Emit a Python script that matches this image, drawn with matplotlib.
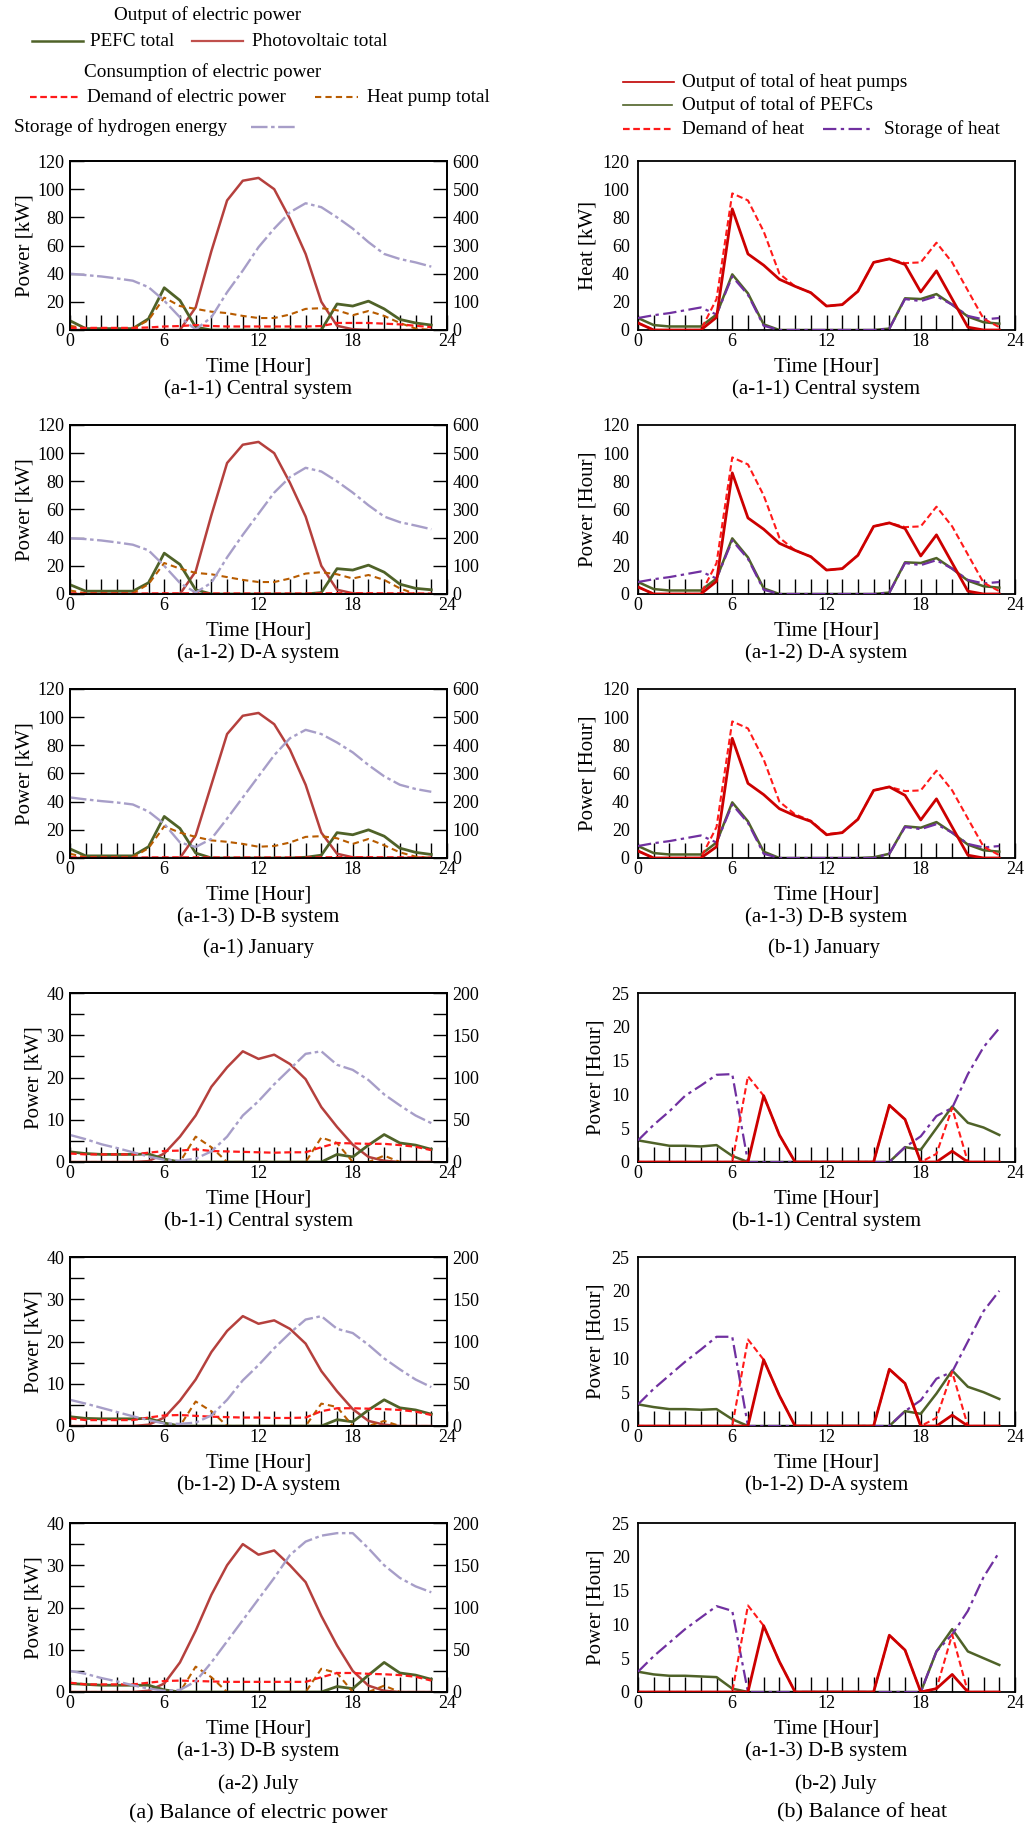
import matplotlib
matplotlib.use("Agg")
import matplotlib.pyplot as plt
from matplotlib.lines import Line2D
from matplotlib.ticker import MultipleLocator

plt.rcParams['font.family'] = ['Liberation Serif', 'DejaVu Serif']
plt.rcParams['font.size'] = 13

HOURS = list(range(24))

# ---- electric balance, January (left, rows 1-3)
E1_PEFC = [6.6, 1, 1, 1, 1, 8, 30, 21, 2, 0, 0, 0, 0, 0, 0, 0, 0, 18.5, 17, 20.5, 15, 7.5, 5, 3.5]
E1_PV = [0, 0, 0, 0, 0, 0, 0, 0, 16, 56, 92, 106, 108, 100, 79, 54, 20, 3, 0.5, 0, 0, 0, 0, 0]
E1_DEM = [1.5, 1.5, 1.5, 1.5, 1.5, 1.8, 2.5, 2.8, 3.5, 2.8, 2.5, 2.5, 2.5, 2.5, 2.5, 2.5, 2.8, 5, 5, 5, 4.5, 4, 3, 2]
E1_HP = [3, 1, 1, 1, 1, 7, 23, 17, 15, 13, 12, 10, 8.5, 8.5, 11, 15, 15.5, 14, 10.5, 13.5, 10, 5, 1, 0]
E1_H2 = [200, 195, 190, 183, 175, 152, 104, 45, 2, 45, 134, 211, 294, 360, 418, 450, 436, 400, 360, 312, 270, 252, 240, 225]

E2_PEFC = [6.6, 2, 2, 2, 2, 8, 29, 21, 3, 0, 0, 0, 0, 0, 0, 0, 1, 18, 17, 20.5, 15.5, 7, 4, 3]
E2_PV = [0, 0, 0, 0, 0, 0, 0, 0, 16, 56, 93, 106, 108, 100, 79, 55, 20, 3, 0.5, 0, 0, 0, 0, 0]
E2_DEM = [0.5, 0.3, 0.3, 0.3, 0.3, 0.4, 0.5, 0.5, 0.5, 0.4, 0.4, 0.4, 0.4, 0.4, 0.4, 0.4, 0.5, 0.6, 0.6, 0.6, 0.5, 0.5, 0.4, 0.3]
E2_HP = [2.5, 0.5, 0.5, 0.5, 0.5, 7, 22, 18, 15, 14, 12, 10, 8.5, 8.5, 11, 14.5, 15.5, 14, 11, 13.5, 10, 4, 0, 0]
E2_H2 = [198, 195, 190, 183, 175, 155, 100, 39, 5, 40, 130, 210, 285, 360, 415, 448, 435, 400, 360, 315, 275, 255, 243, 230]

E3_PEFC = [6.5, 1.5, 1.5, 1.5, 1.5, 8, 29.5, 21, 3.5, 0, 0, 0, 0, 0, 0, 0.5, 2, 18, 16.5, 20, 15.5, 7, 4, 2.5]
E3_PV = [0, 0, 0, 0, 0, 0, 0, 0, 16, 52, 88, 101, 103, 95, 77, 52, 18, 3, 0.5, 0, 0, 0, 0, 0]
E3_DEM = [0.5, 0.3, 0.3, 0.3, 0.3, 0.4, 0.5, 0.5, 0.5, 0.4, 0.4, 0.4, 0.4, 0.4, 0.4, 0.4, 0.5, 0.6, 0.6, 0.6, 0.5, 0.5, 0.4, 0.3]
E3_HP = [3, 0.5, 0.5, 0.5, 0.5, 7, 22.5, 18, 15, 12.5, 11.5, 10, 8, 8.5, 11, 15, 15.5, 14, 10, 13.5, 9, 4, 1, 0]
E3_H2 = [215, 208, 202, 197, 190, 165, 121, 55, 39, 68, 140, 215, 290, 365, 425, 455, 440, 410, 375, 330, 290, 260, 245, 235]

# ---- heat balance, January (right, rows 1-3)
H1_HP = [5, 0, 0, 0, 0, 9, 86, 54, 46, 36, 31, 26.5, 17, 18, 27.5, 48, 50.5, 46.5, 27, 42, 22, 2, 0, 0]
H1_PEFC = [8.5, 3.5, 2.5, 2.5, 2.5, 11, 39.5, 26, 4, 0, 0, 0, 0, 0, 0, 0, 1, 22.5, 22, 25.5, 18, 9.5, 5.5, 4.5]
H1_DEM = [5, 0, 0, 0, 0, 22, 97, 92, 70, 40, 31, 26.5, 17, 18, 27.5, 48, 50.5, 47.5, 48, 62, 48, 28, 8, 2]
H1_ST = [8.5, 10.5, 12, 14, 16, 11, 38, 25, 3, 0, 0, 0, 0, 0, 0, 0, 1, 22, 20.5, 24, 18, 10, 7.5, 8.5]

H2_HP = [5, 0, 0, 0, 0, 9, 86, 54, 46, 36, 31, 26.5, 17, 18, 27.5, 48, 50.5, 46.5, 27, 42, 22, 2, 0, 0]
H2_PEFC = [8.5, 3.5, 2.5, 2.5, 2.5, 11, 39.5, 26, 4, 0, 0, 0, 0, 0, 0, 0, 1, 22.5, 22, 25.5, 18, 9.5, 5.5, 4.5]
H2_DEM = [5, 0, 0, 0, 0, 22, 97, 92, 70, 40, 31, 26.5, 17, 18, 27.5, 48, 50.5, 47.5, 48, 62, 48, 28, 8, 2]
H2_ST = [8.5, 10.5, 12, 14, 16, 11, 38, 25, 3, 0, 0, 0, 0, 0, 0, 0, 1, 22, 20.5, 24, 18, 10, 7.5, 8.5]

H3_HP = [5, 0, 0, 0, 0, 8, 85, 53, 45, 35, 30, 26, 16.5, 18, 27.5, 48, 50.5, 44.5, 27, 42, 22, 2, 0, 0]
H3_PEFC = [8.5, 3.5, 2.5, 2.5, 2.5, 11, 39.5, 26, 4.5, 0, 0, 0, 0, 0, 0, 0.5, 3, 22.5, 21.5, 25.5, 18, 9.5, 5.5, 4.5]
H3_DEM = [5, 0, 0, 0, 0, 22, 97, 92, 70, 40, 31, 26.5, 17, 18, 27.5, 48, 50.5, 47.5, 48, 62, 48, 28, 8, 2]
H3_ST = [8.5, 10.5, 12, 14, 16, 11, 38, 25, 3, 0, 0, 0, 0, 0, 0, 0, 3, 22, 20.5, 24, 18, 10, 7.5, 8.5]

# ---- electric balance, July (left, rows 4-6)
J1_PEFC = [2.4, 2.0, 1.8, 1.8, 1.8, 1.9, 0.7, 0, 0, 0, 0, 0, 0, 0, 0, 0, 0, 1.8, 1.2, 4, 6.5, 4.5, 4, 3]
J1_PV = [0, 0, 0, 0, 0, 0.2, 2, 6, 11, 17.8, 22.4, 26.2, 24.4, 25.4, 23.2, 19.6, 13, 8.3, 4.1, 1.2, 0.3, 0, 0, 0]
J1_DEM = [2, 1.8, 1.8, 1.8, 1.8, 2.2, 2.6, 2.7, 3.0, 2.6, 2.5, 2.4, 2.3, 2.2, 2.3, 2.3, 3.5, 4.5, 4.4, 4.3, 4.3, 4.0, 3.6, 2.8]
J1_HP = [0, 0, 0, 0, 0, 0, 0, 0, 6, 3.5, 0, 0, 0, 0, 0, 0, 5.8, 4.5, 0, 0, 1.5, 0, 0, 0]
J1_H2 = [32, 27, 21, 16.5, 11.5, 6.5, 2.5, 1.5, 4, 12.5, 30, 55, 72, 92, 110, 128, 131, 115, 109, 97, 80, 67, 55, 46]

J2_PEFC = [2.2, 1.8, 1.7, 1.7, 1.7, 1.8, 0.7, 0, 0, 0, 0, 0, 0, 0, 0, 0, 0, 1.5, 1.0, 3.8, 6.2, 4.3, 3.8, 2.8]
J2_PV = [0, 0, 0, 0, 0, 0.3, 2, 6, 11, 17.5, 22.5, 26, 24.2, 25, 23, 19.5, 13, 8.2, 4, 1.2, 0.3, 0, 0, 0]
J2_DEM = [1.8, 1.4, 1.4, 1.4, 1.4, 2.0, 2.5, 2.6, 2.4, 2.2, 2.1, 2.0, 2.0, 1.9, 1.9, 2.0, 3.5, 4.2, 4.2, 4.1, 4.0, 3.8, 3.4, 2.6]
J2_HP = [0, 0, 0, 0, 0, 0, 0, 0, 5.8, 3.5, 0, 0, 0, 0, 0, 0, 5.3, 4.5, 0, 0, 1.2, 0, 0, 0]
J2_H2 = [31, 26.5, 21.5, 16.5, 11.5, 7, 3, 2.5, 4, 12.5, 31, 54, 72, 92, 110, 126, 130, 115, 110, 96, 80, 67, 55, 46]

J3_PEFC = [2, 1.8, 1.6, 1.6, 1.6, 1.6, 0.5, 0, 0, 0, 0, 0, 0, 0, 0, 0, 0, 1.3, 0.8, 4, 7, 4.5, 4, 3]
J3_PV = [0, 0, 0, 0, 0, 0.3, 2, 7, 14.5, 23, 30, 35, 32.5, 33.5, 30, 26, 18, 11, 5, 1.5, 0.3, 0, 0, 0]
J3_DEM = [2.2, 1.8, 1.8, 1.8, 1.8, 2.2, 2.6, 2.7, 2.6, 2.5, 2.4, 2.4, 2.4, 2.4, 2.4, 2.4, 3.5, 4.5, 4.5, 4.3, 4.2, 4.0, 3.6, 2.7]
J3_HP = [0, 0, 0, 0, 0, 0, 0, 0, 6, 3.5, 0, 0, 0, 0, 0, 0, 5.5, 4.5, 0, 0, 1.5, 0, 0, 0]
J3_H2 = [25, 21.5, 16.5, 12.5, 8, 4, 1.5, 2.5, 12.5, 35, 60, 85, 110, 135, 162, 178, 185, 188, 188, 170, 150, 135, 125, 118]

# ---- heat balance, July (right, rows 4-6)
K1_HP = [0, 0, 0, 0, 0, 0, 0, 0, 9.8, 4, 0, 0, 0, 0, 0, 0, 8.4, 6.3, 0, 0, 1.6, 0, 0, 0]
K1_PEFC = [3.2, 2.8, 2.4, 2.4, 2.3, 2.5, 0.9, 0, 0, 0, 0, 0, 0, 0, 0, 0, 0, 2.2, 1.8, 5, 8.2, 5.8, 5.1, 4]
K1_DEM = [0, 0, 0, 0, 0, 0, 0, 12.7, 9.8, 4, 0, 0, 0, 0, 0, 0, 8.4, 6.3, 0, 1.2, 8, 0, 0, 0]
K1_ST = [3.2, 5.5, 7.5, 9.8, 11.3, 12.9, 13, 0, 0, 0, 0, 0, 0, 0, 0, 0, 0, 2.2, 3.8, 6.8, 8, 13, 17, 19.8]

K2_HP = [0, 0, 0, 0, 0, 0, 0, 0, 9.8, 4.5, 0, 0, 0, 0, 0, 0, 8.4, 6.3, 0, 0, 1.6, 0, 0, 0]
K2_PEFC = [3.2, 2.8, 2.5, 2.5, 2.4, 2.5, 1, 0, 0, 0, 0, 0, 0, 0, 0, 0, 0, 2.2, 1.8, 4.8, 8.2, 5.8, 5, 4]
K2_DEM = [0, 0, 0, 0, 0, 0, 0, 12.8, 9.8, 4.5, 0, 0, 0, 0, 0, 0, 8.4, 6.3, 0, 1.2, 8, 0, 0, 0]
K2_ST = [3.2, 5.5, 7.5, 9.5, 11.3, 13.2, 13.2, 0, 0, 0, 0, 0, 0, 0, 0, 0, 0, 2.2, 3.8, 7, 8, 12.5, 17, 20]

K3_HP = [0, 0, 0, 0, 0, 0, 0, 0, 9.8, 4.5, 0, 0, 0, 0, 0, 0, 8.4, 6.2, 0, 0.5, 2.6, 0, 0, 0]
K3_PEFC = [3, 2.6, 2.4, 2.4, 2.3, 2.2, 0.5, 0, 0, 0, 0, 0, 0, 0, 0, 0, 0, 0, 0, 6, 9.3, 6, 5, 4]
K3_DEM = [0, 0, 0, 0, 0, 0, 0, 12.8, 9.8, 4.5, 0, 0, 0, 0, 0, 0, 8.4, 6.2, 0, 0.5, 8.5, 0, 0, 0]
K3_ST = [3, 5.3, 7.3, 9.3, 11, 12.7, 12, 0, 0, 0, 0, 0, 0, 0, 0, 0, 0, 0, 0, 6, 8.5, 12, 17, 20.7]

ELEC_PANELS = [
    (E1_PEFC, E1_PV, E1_DEM, E1_HP, E1_H2, "(a-1-1) Central system"),
    (E2_PEFC, E2_PV, E2_DEM, E2_HP, E2_H2, "(a-1-2) D-A system"),
    (E3_PEFC, E3_PV, E3_DEM, E3_HP, E3_H2, "(a-1-3) D-B system"),
    (J1_PEFC, J1_PV, J1_DEM, J1_HP, J1_H2, "(b-1-1) Central system"),
    (J2_PEFC, J2_PV, J2_DEM, J2_HP, J2_H2, "(b-1-2) D-A system"),
    (J3_PEFC, J3_PV, J3_DEM, J3_HP, J3_H2, "(a-1-3) D-B system"),
]
HEAT_PANELS = [
    (H1_HP, H1_PEFC, H1_DEM, H1_ST, "Heat [kW]", "(a-1-1) Central system"),
    (H2_HP, H2_PEFC, H2_DEM, H2_ST, "Power [Hour]", "(a-1-2) D-A system"),
    (H3_HP, H3_PEFC, H3_DEM, H3_ST, "Power [Hour]", "(a-1-3) D-B system"),
    (K1_HP, K1_PEFC, K1_DEM, K1_ST, "Power [Hour]", "(b-1-1) Central system"),
    (K2_HP, K2_PEFC, K2_DEM, K2_ST, "Power [Hour]", "(b-1-2) D-A system"),
    (K3_HP, K3_PEFC, K3_DEM, K3_ST, "Power [Hour]", "(a-1-3) D-B system"),
]

C_PEFC = '#4f6228'
C_PV = '#b5403d'
C_DEM = '#ff1a1a'
C_HPE = '#b85c00'
C_H2 = '#a79ec8'
C_HPH = '#cc0000'
C_ST = '#7030a0'
DASH_DEM = (3, 1.6)
DASH_HPE = (3, 2)
DASH_H2 = (7, 1.5, 1.5, 1.5)
DASH_ST = (6, 2, 1.5, 2)

FS_TICK = 13
FS_LABEL = 15
FS_CAP = 15
FS_KEY = 13.8

W, H = 1025, 1830
fig = plt.figure(figsize=(W / 100, H / 100), dpi=100)

ROW_TOPS = [161, 425, 689, 993, 1257, 1523]
AX_H = 169
LEFT_X, RIGHT_X, AX_W = 70, 638, 377


def fx(x):
    return x / W


def fy(y):
    return 1 - y / H


def style_x(ax):
    ax.set_xlim(0, 24)
    ax.xaxis.set_major_locator(MultipleLocator(6))
    ax.xaxis.set_minor_locator(MultipleLocator(1))
    ax.tick_params(axis='x', which='both', direction='in', length=11, width=1.0,
                   top=False, pad=2, labelsize=FS_TICK)
    for sp in ax.spines.values():
        sp.set_linewidth(1.3)


def captions(ax_left_px, top, label):
    cx = ax_left_px + AX_W / 2
    bottom = top + AX_H
    fig.text(fx(cx), fy(bottom + 37), "Time [Hour]", ha='center', va='center', fontsize=FS_LABEL)
    fig.text(fx(cx), fy(bottom + 59), label, ha='center', va='center', fontsize=FS_CAP)


for i, (pefc, pv, dem, hp, h2, label) in enumerate(ELEC_PANELS):
    top = ROW_TOPS[i]
    ax = fig.add_axes([fx(LEFT_X), fy(top + AX_H), fx(AX_W), AX_H / H])
    ax2 = ax.twinx()
    ax.plot(HOURS, pv, color=C_PV, lw=1.8, zorder=3)
    ax.plot(HOURS, pefc, color=C_PEFC, lw=2.0, zorder=4)
    ax.plot(HOURS, hp, color=C_HPE, lw=1.5, dashes=DASH_HPE, zorder=4)
    ax.plot(HOURS, dem, color=C_DEM, lw=1.6, dashes=DASH_DEM, zorder=5)
    ax2.plot(HOURS, h2, color=C_H2, lw=1.7, dashes=DASH_H2)
    style_x(ax)
    if i < 3:
        ax.set_ylim(0, 120)
        ax2.set_ylim(0, 600)
        ax.yaxis.set_major_locator(MultipleLocator(20))
        ax2.yaxis.set_major_locator(MultipleLocator(100))
    else:
        ax.set_ylim(0, 40)
        ax2.set_ylim(0, 200)
        ax.yaxis.set_major_locator(MultipleLocator(10))
        ax.yaxis.set_minor_locator(MultipleLocator(5))
        ax2.yaxis.set_major_locator(MultipleLocator(50))
        ax2.yaxis.set_minor_locator(MultipleLocator(25))
    ax.tick_params(axis='y', which='both', direction='in', length=10, width=1.0, pad=4, labelsize=FS_TICK)
    ax2.tick_params(axis='y', which='both', direction='in', length=10, width=1.0, pad=4, labelsize=FS_TICK)
    for sp in ax2.spines.values():
        sp.set_linewidth(1.3)
    ax.set_ylabel("Power [kW]", fontsize=FS_LABEL, labelpad=2)
    captions(LEFT_X, top, label)

for i, (hp, pefc, dem, st, ylab, label) in enumerate(HEAT_PANELS):
    top = ROW_TOPS[i]
    ax = fig.add_axes([fx(RIGHT_X), fy(top + AX_H), fx(AX_W), AX_H / H])
    ax.plot(HOURS, st, color=C_ST, lw=1.6, dashes=DASH_ST, zorder=3)
    ax.plot(HOURS, pefc, color=C_PEFC, lw=1.8, zorder=2)
    ax.plot(HOURS, dem, color=C_DEM, lw=1.5, dashes=DASH_DEM, zorder=4)
    ax.plot(HOURS, hp, color=C_HPH, lw=2.0, zorder=5)
    style_x(ax)
    if i < 3:
        ax.set_ylim(0, 120)
        ax.yaxis.set_major_locator(MultipleLocator(20))
    else:
        ax.set_ylim(0, 25)
        ax.yaxis.set_major_locator(MultipleLocator(5))
    ax.tick_params(axis='y', which='both', length=0, pad=6, labelsize=FS_TICK)
    ax.set_ylabel(ylab, fontsize=FS_LABEL, labelpad=4)
    captions(RIGHT_X, top, label)

# month and overall captions
fig.text(fx(LEFT_X + AX_W / 2), fy(ROW_TOPS[2] + AX_H + 90), "(a-1) January", ha='center', va='center', fontsize=FS_CAP)
fig.text(fx(824), fy(ROW_TOPS[2] + AX_H + 90), "(b-1) January", ha='center', va='center', fontsize=FS_CAP)
fig.text(fx(LEFT_X + AX_W / 2), fy(ROW_TOPS[5] + AX_H + 92), "(a-2) July", ha='center', va='center', fontsize=FS_CAP)
fig.text(fx(836), fy(ROW_TOPS[5] + AX_H + 92), "(b-2) July", ha='center', va='center', fontsize=FS_CAP)
fig.text(fx(258), fy(1813), "(a) Balance of electric power", ha='center', va='center', fontsize=16)
fig.text(fx(862), fy(1813), "(b) Balance of heat", ha='center', va='center', fontsize=16)


# legends drawn as figure-level sample lines
def key(x0, x1, y, color, lw=1.6, dashes=None):
    ln = Line2D([fx(x0), fx(x1)], [fy(y), fy(y)], transform=fig.transFigure, color=color, lw=lw)
    if dashes is not None:
        ln.set_dashes(dashes)
    fig.add_artist(ln)


def ktext(x, y, s, ha='left'):
    fig.text(fx(x), fy(y), s, ha=ha, va='center', fontsize=FS_KEY)


ktext(208, 15, "Output of electric power", ha='center')
key(32, 83, 41, C_PEFC, lw=1.8)
ktext(90, 41, "PEFC total")
key(192, 243, 41, '#c0504d', lw=1.6)
ktext(252, 41, "Photovoltaic total")
ktext(203, 72, "Consumption of electric power", ha='center')
key(30, 78, 97, C_DEM, lw=1.6, dashes=DASH_DEM)
ktext(87, 97, "Demand of electric power")
key(315, 358, 97, C_HPE, lw=1.5, dashes=DASH_HPE)
ktext(367, 97, "Heat pump total")
ktext(14, 127, "Storage of hydrogen energy")
key(251, 298, 127, C_H2, lw=1.7, dashes=DASH_H2)

key(623, 674, 82, '#c00000', lw=1.2)
ktext(682, 82, "Output of total of heat pumps")
key(623, 672, 105, C_PEFC, lw=1.2)
ktext(682, 105, "Output of total of PEFCs")
key(623, 672, 129, C_DEM, lw=1.6, dashes=DASH_DEM)
ktext(682, 129, "Demand of heat")
key(823, 874, 129, C_ST, lw=1.6, dashes=DASH_ST)
ktext(884, 129, "Storage of heat")

fig.savefig("out.png", dpi=100)
